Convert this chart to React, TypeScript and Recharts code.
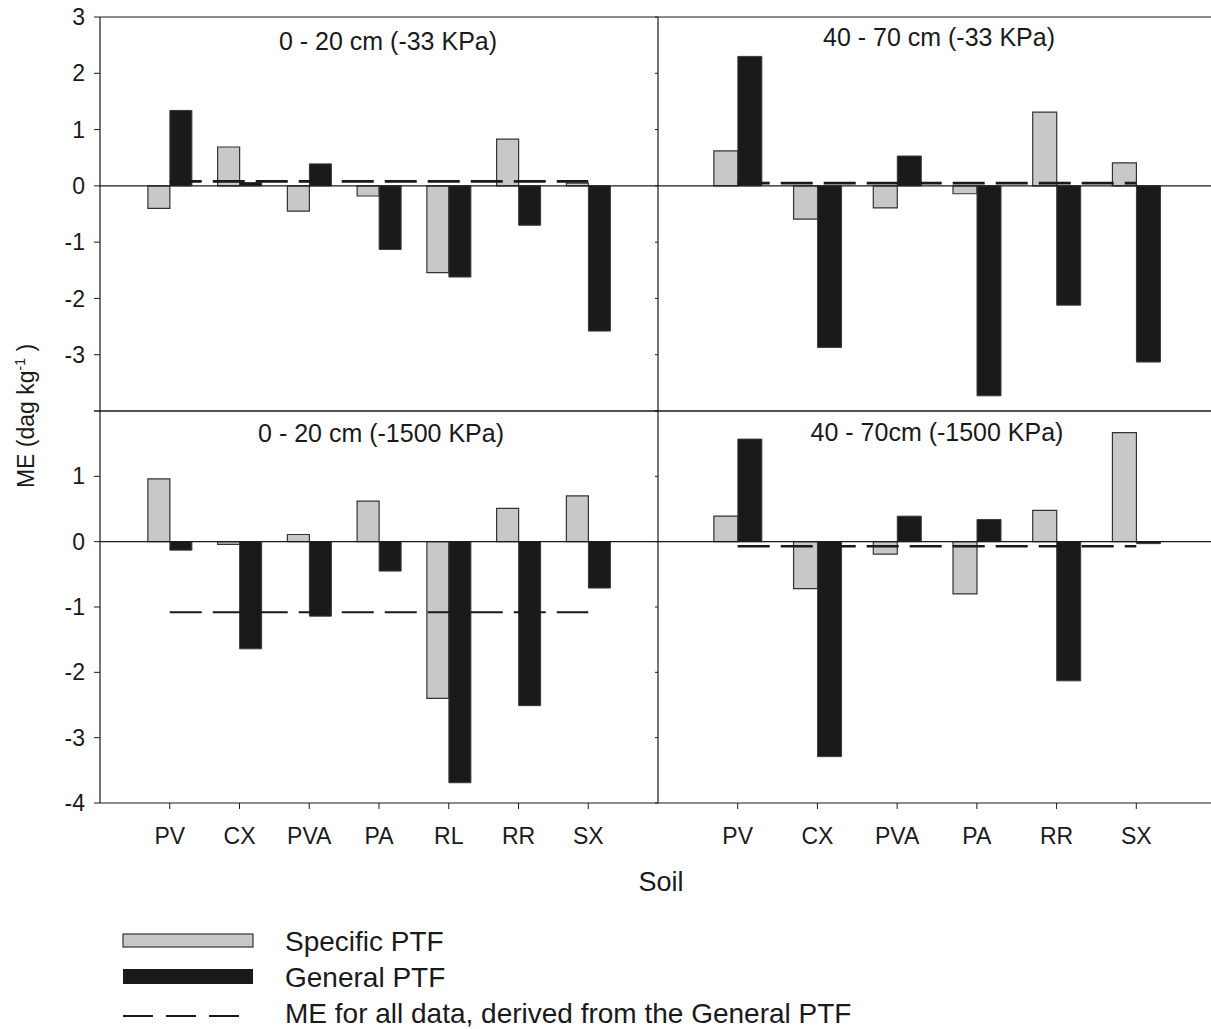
import React from "react";
import { BarChart, Bar, XAxis, YAxis, ReferenceLine, Legend } from "recharts";

const W = 1216;
const H = 1029;
const INK = "#1a1a1a";
const GREY = "#c8c8c8";
const FONT = "'Liberation Sans', Arial, Helvetica, sans-serif";

// categories
const SOILS_0_20 = ["PV", "CX", "PVA", "PA", "RL", "RR", "SX"];
const SOILS_40_70 = ["PV", "CX", "PVA", "PA", "RR", "SX"];

// -33 KPa, 0 - 20 cm
const SPECIFIC_33_TOP = [-0.4, 0.69, -0.45, -0.18, -1.54, 0.83, 0.05];
const GENERAL_33_TOP = [1.34, 0.06, 0.39, -1.13, -1.62, -0.7, -2.58];
const ME_33_TOP = 0.08;

// -33 KPa, 40 - 70 cm
const SPECIFIC_33_SUB = [0.62, -0.59, -0.39, -0.14, 1.31, 0.41];
const GENERAL_33_SUB = [2.3, -2.87, 0.53, -3.73, -2.12, -3.13];
const ME_33_SUB = 0.05;

// -1500 KPa, 0 - 20 cm
const SPECIFIC_1500_TOP = [0.96, -0.04, 0.11, 0.62, -2.4, 0.51, 0.7];
const GENERAL_1500_TOP = [-0.13, -1.64, -1.14, -0.45, -3.69, -2.51, -0.71];
const ME_1500_TOP = -1.08;

// -1500 KPa, 40 - 70 cm
const SPECIFIC_1500_SUB = [0.39, -0.72, -0.19, -0.8, 0.48, 1.67];
const GENERAL_1500_SUB = [1.57, -3.29, 0.39, 0.34, -2.13, -0.03];
const ME_1500_SUB = -0.07;

const TICKS_33 = [3, 2, 1, 0, -1, -2, -3, -4];
const TICKS_1500 = [2, 1, 0, -1, -2, -3, -4];

const LEGEND_LABELS = [
  "Specific PTF",
  "General PTF",
  "ME for all data, derived from the General PTF",
];

interface PanelProps {
  soils: string[];
  specific: number[];
  general: number[];
  me: number;
  title: string;
  titleDx: number;
  titleY: number;
  domain: [number, number];
  ticks: number[];
  hiddenTick: number;
  left: number;
  top: number;
  right: number;
  bottom: number;
  yLabels: boolean;
  xLabels: boolean;
  barSize: number;
  dashWidth: number;
  yTitle?: boolean;
  soilTitle?: boolean;
  legend?: boolean;
}

function LegendBox() {
  return (
    <svg width={900} height={114} style={{ display: "block", fontFamily: FONT, overflow: "visible" }}>
      <rect x={123} y={19} width={130} height={13} fill={GREY} stroke="#333" strokeWidth={1.2} />
      <rect x={123} y={54} width={130} height={15} fill={INK} />
      <line x1={123} x2={241} y1={101} y2={101} stroke={INK} strokeWidth={2} strokeDasharray="30 13" />
      <text x={285} y={36} fontSize={28} fill={INK}>{LEGEND_LABELS[0]}</text>
      <text x={285} y={72} fontSize={28} fill={INK}>{LEGEND_LABELS[1]}</text>
      <text x={285} y={108} fontSize={28} fill={INK}>{LEGEND_LABELS[2]}</text>
    </svg>
  );
}

function Panel(p: PanelProps) {
  const rows = p.soils.map((soil, i) => ({ soil, specific: p.specific[i], general: p.general[i] }));
  const yw = p.yLabels ? 100 : 10;
  const xh = p.xLabels ? 60 : 1;
  const pad = (p.right - p.left) / (p.soils.length + 1) / 2;
  const cx = (p.left + p.right) / 2 + p.titleDx;

  return (
    <div style={{ position: "absolute", left: 0, top: 0 }}>
      <BarChart
        width={W}
        height={H}
        data={rows}
        barGap={0}
        barSize={p.barSize}
        margin={{ top: p.top - 1, left: p.left - yw, right: W - p.right, bottom: H - p.bottom - xh }}
      >
        <XAxis
          dataKey="soil"
          padding={{ left: pad, right: pad }}
          height={xh}
          interval={0}
          tick={p.xLabels ? { fontSize: 23, fill: INK } : false}
          tickSize={6}
          tickMargin={19}
          tickLine={{ stroke: INK }}
          axisLine={{ stroke: INK, strokeWidth: 1.2 }}
          label={
            p.soilTitle
              ? {
                  content: () => (
                    <text x={661} y={891} textAnchor="middle" fontSize={27} fill={INK}>
                      Soil
                    </text>
                  ),
                }
              : undefined
          }
        />
        <XAxis
          xAxisId="top"
          orientation="top"
          dataKey="soil"
          height={1}
          tick={false}
          axisLine={{ stroke: INK, strokeWidth: 1.2 }}
          label={{
            content: () => (
              <text x={cx} y={p.titleY} textAnchor="middle" fontSize={25} fill={INK}>
                {p.title}
              </text>
            ),
          }}
        />
        <YAxis
          type="number"
          domain={p.domain}
          ticks={p.ticks}
          interval={0}
          width={yw}
          tickSize={p.yLabels ? 6 : 3}
          tickMargin={9}
          tick={{ fontSize: 23, fill: INK }}
          tickFormatter={(v: number) => (!p.yLabels || v === p.hiddenTick ? "" : String(v))}
          tickLine={{ stroke: INK }}
          axisLine={{ stroke: INK, strokeWidth: 1.2 }}
          label={
            p.yTitle
              ? {
                  content: () => (
                    <text
                      x={34}
                      y={416}
                      transform="rotate(-90 34 416)"
                      textAnchor="middle"
                      fontSize={23}
                      fill={INK}
                    >
                      ME (dag kg
                      <tspan dy={-9} fontSize={14}>-1</tspan>
                      <tspan dy={9}> )</tspan>
                    </text>
                  ),
                }
              : undefined
          }
        />
        <Bar dataKey="specific" fill={GREY} stroke="#333" strokeWidth={1.2} isAnimationActive={false} />
        <Bar dataKey="general" fill={INK} stroke="#3a3a3a" strokeWidth={1} isAnimationActive={false} />
        <ReferenceLine y={0} stroke={INK} strokeWidth={1.2} />
        <ReferenceLine
          segment={[
            { x: p.soils[0], y: p.me },
            { x: p.soils[p.soils.length - 1], y: p.me },
          ]}
          stroke={INK}
          strokeWidth={p.dashWidth}
          strokeDasharray="32 11"
        />
        {p.legend && (
          <Legend
            layout="horizontal"
            verticalAlign="middle"
            align="center"
            wrapperStyle={{ left: 0, top: 915, width: 900, height: 114 }}
            content={() => <LegendBox />}
          />
        )}
      </BarChart>
    </div>
  );
}

export default function App() {
  return (
    <div
      style={{
        position: "absolute",
        left: 0,
        top: 0,
        width: 1211,
        height: 1029,
        overflow: "hidden",
        background: "#fff",
        fontFamily: FONT,
      }}
    >
      <Panel
        soils={SOILS_0_20}
        specific={SPECIFIC_33_TOP}
        general={GENERAL_33_TOP}
        me={ME_33_TOP}
        title="0 - 20 cm (-33 KPa)"
        titleDx={9}
        titleY={50}
        domain={[-4, 3]}
        ticks={TICKS_33}
        hiddenTick={-4}
        left={100}
        top={17}
        right={658}
        bottom={411}
        yLabels
        xLabels={false}
        barSize={22}
        dashWidth={2.7}
        yTitle
      />
      <Panel
        soils={SOILS_40_70}
        specific={SPECIFIC_33_SUB}
        general={GENERAL_33_SUB}
        me={ME_33_SUB}
        title="40 - 70 cm (-33 KPa)"
        titleDx={2}
        titleY={46}
        domain={[-4, 3]}
        ticks={TICKS_33}
        hiddenTick={-4}
        left={658}
        top={17}
        right={1216}
        bottom={411}
        yLabels={false}
        xLabels={false}
        barSize={24}
        dashWidth={2.7}
      />
      <Panel
        soils={SOILS_0_20}
        specific={SPECIFIC_1500_TOP}
        general={GENERAL_1500_TOP}
        me={ME_1500_TOP}
        title="0 - 20 cm (-1500 KPa)"
        titleDx={2}
        titleY={442}
        domain={[-4, 2]}
        ticks={TICKS_1500}
        hiddenTick={2}
        left={100}
        top={411}
        right={658}
        bottom={803}
        yLabels
        xLabels
        barSize={22}
        dashWidth={1.8}
        soilTitle
        legend
      />
      <Panel
        soils={SOILS_40_70}
        specific={SPECIFIC_1500_SUB}
        general={GENERAL_1500_SUB}
        me={ME_1500_SUB}
        title="40 - 70cm (-1500 KPa)"
        titleDx={0}
        titleY={441}
        domain={[-4, 2]}
        ticks={TICKS_1500}
        hiddenTick={2}
        left={658}
        top={411}
        right={1216}
        bottom={803}
        yLabels={false}
        xLabels
        barSize={24}
        dashWidth={2.7}
      />
    </div>
  );
}
